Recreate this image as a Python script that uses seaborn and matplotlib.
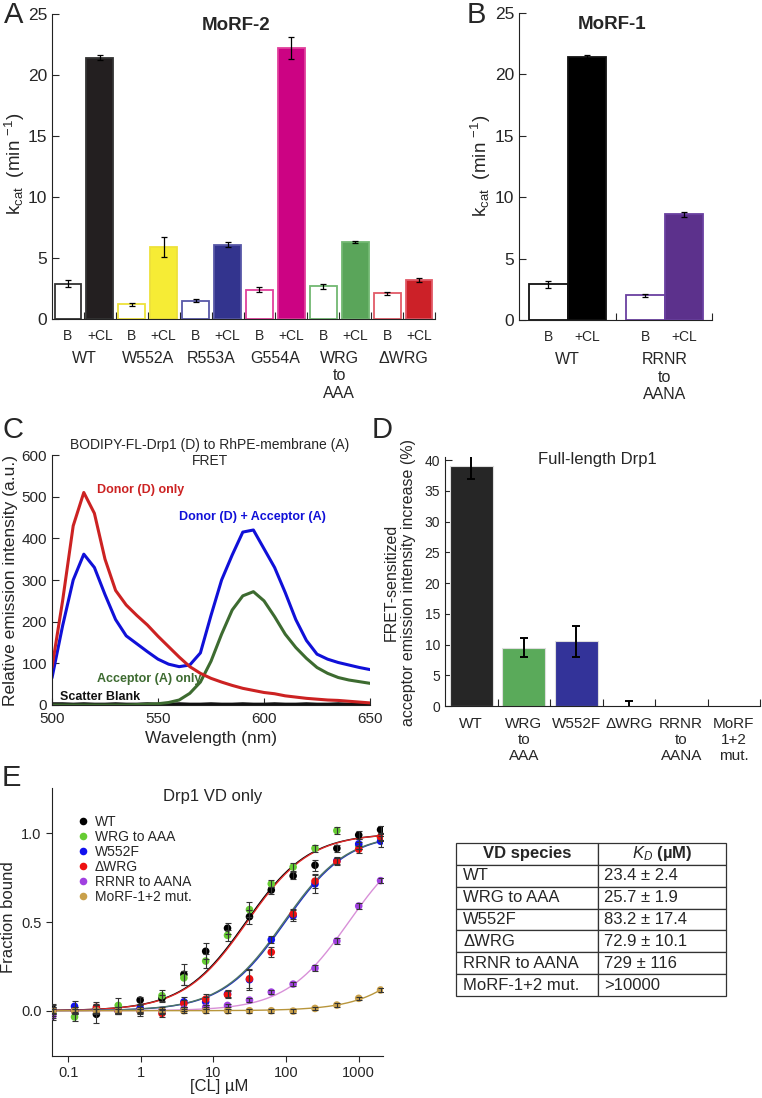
import matplotlib

matplotlib.use('Agg')
import matplotlib.pyplot as plt
import numpy as np
import pandas as pd
import seaborn as sns
from matplotlib.ticker import NullLocator

# ---- panel A: kcat, MoRF-2 mutants (basal B / +CL)
morf2_groups = ['WT', 'W552A', 'R553A', 'G554A', 'WRG\nto\nAAA', '\u0394WRG']
morf2_basal = [2.9, 1.2, 1.5, 2.4, 2.7, 2.1]
morf2_basal_err = [0.3, 0.1, 0.1, 0.2, 0.2, 0.1]
morf2_cl = [21.4, 5.9, 6.1, 22.2, 6.3, 3.2]
morf2_cl_err = [0.2, 0.8, 0.2, 0.9, 0.1, 0.2]
morf2_fill = ['#231f20', '#f6ec35', '#33348e', '#cc0383', '#5aa55a', '#cc2128']
morf2_edge = ['#333333', '#eee23a', '#5858a8', '#e0409c', '#72b872', '#e25a68']

# ---- panel B: kcat, MoRF-1
morf1_groups = ['WT', 'RRNR\nto\nAANA']
morf1_basal = [2.9, 2.0]
morf1_basal_err = [0.3, 0.1]
morf1_cl = [21.4, 8.6]
morf1_cl_err = [0.2, 0.2]
morf1_fill = ['#000000', '#5c318c']
morf1_edge = ['#111111', '#6a40a0']

# ---- panel C: FRET emission spectra (every 5 nm)
wavelength_nm = list(range(500, 651, 5))
donor_only = [90, 250, 430, 510, 460, 350, 275, 240, 215, 192, 165, 140, 115, 92, 76, 64,
              55, 47, 40, 35, 30, 27, 22, 19, 16, 14, 12, 11, 9, 7, 5]
donor_acceptor = [65, 190, 300, 362, 330, 265, 205, 166, 147, 128, 110, 98, 92, 96, 125, 215,
                  300, 360, 415, 420, 375, 330, 270, 205, 155, 122, 110, 102, 96, 90, 85]
acceptor_only = [0, 0, 0, 0, 0, 0, 0, 0, 1, 2, 3, 6, 12, 28, 55, 105,
                 170, 228, 262, 272, 250, 212, 170, 138, 112, 90, 76, 66, 60, 56, 52]
scatter_blank = [3, 3, 2, 3, 2, 2, 3, 2, 2, 3, 2, 2, 3, 2, 2, 3,
                 2, 2, 3, 2, 2, 3, 2, 2, 3, 2, 2, 3, 2, 2, 3]
spectra_names = ['Scatter Blank', 'Acceptor (A) only', 'Donor (D) + Acceptor (A)', 'Donor (D) only']
spectra_colors = ['#111111', '#3d6b30', '#1010d8', '#cc2222']

# ---- panel D: FRET-sensitized acceptor emission increase
fret_labels = ['WT', 'WRG\nto\nAAA', 'W552F', '\u0394WRG', 'RRNR\nto\nAANA', 'MoRF\n1+2\nmut.']
fret_increase = [39.0, 9.5, 10.5, 0.0, 0.0, 0.0]
fret_err = [2.0, 1.5, 2.5, 0.8]
fret_colors = ['#262626', '#5aaa5a', '#333399', '#888888', '#888888', '#888888']

# ---- panel E: VD binding to CL
cl_um = [0.061, 0.122, 0.244, 0.488, 0.977, 1.95, 3.91, 7.81, 15.6, 31.3, 62.5, 125, 250, 500, 1000, 2000]
vd_species = ['WT', 'WRG to AAA', 'W552F', '\u0394WRG', 'RRNR to AANA', 'MoRF-1+2 mut.']
frac_wt = [0.01, 0.00, -0.02, 0.00, 0.06, 0.07, 0.205, 0.335, 0.465, 0.53, 0.68, 0.76, 0.82, 0.915, 0.99, 1.02]
frac_wrg = [-0.01, -0.035, 0.01, 0.03, 0.0, 0.085, 0.185, 0.28, 0.425, 0.57, 0.715, 0.81, 0.915, 1.015, 0.93, 0.975]
frac_w552f = [0.0, 0.025, 0.01, 0.0, 0.015, 0.0, 0.05, 0.05, 0.095, 0.175, 0.40, 0.535, 0.715, 0.845, 0.94, 0.955]
frac_dwrg = [0.0, 0.0, 0.02, 0.0, 0.0, -0.015, 0.04, 0.065, 0.09, 0.18, 0.33, 0.545, 0.73, 0.84, 0.91, 0.98]
frac_rrnr = [-0.03, 0.0, 0.0, 0.0, 0.0, 0.0, 0.01, 0.02, 0.03, 0.06, 0.105, 0.15, 0.24, 0.393, 0.59, 0.733]
frac_morf = [0.0, 0.0, 0.0, 0.0, 0.0, 0.0, 0.0, 0.0, 0.0, 0.0, 0.0, -0.002, 0.013, 0.032, 0.07, 0.117]
err_wt = [0.03, 0.02, 0.05, 0.02, 0.02, 0.02, 0.06, 0.045, 0.03, 0.04, 0.02, 0.02, 0.03, 0.02, 0.02, 0.02]
err_wrg = [0.03, 0.02, 0.03, 0.04, 0.02, 0.03, 0.04, 0.04, 0.03, 0.04, 0.02, 0.02, 0.02, 0.02, 0.02, 0.02]
err_w552f = [0.03, 0.03, 0.02, 0.02, 0.02, 0.02, 0.03, 0.03, 0.02, 0.06, 0.02, 0.03, 0.05, 0.02, 0.03, 0.03]
err_dwrg = [0.02, 0.02, 0.03, 0.02, 0.03, 0.02, 0.02, 0.03, 0.02, 0.05, 0.03, 0.03, 0.04, 0.02, 0.02, 0.02]
err_rrnr = [0.02, 0.01, 0.01, 0.01, 0.01, 0.01, 0.01, 0.01, 0.01, 0.01, 0.01, 0.01, 0.015, 0.015, 0.015, 0.015]
err_morf = [0.01] * 16
point_colors = ['#000000', '#66cc33', '#1111ee', '#ee1111', '#a040e0', '#c9a04a']
curve_colors = ['#000000', '#e02828', '#2030c0', '#4d7565', '#d890d8', '#b8963c']
kd_text = ['23.4 \u00b1 2.4', '25.7 \u00b1 1.9', '83.2 \u00b1 17.4', '72.9 \u00b1 10.1', '729 \u00b1 116', '>10000']
# half-saturation points of the drawn fit curves (uM)
fit_midpoint_um = [28, 29, 97, 93, 729, 15000]

sns.set_style('ticks')
plt.rcParams['font.family'] = ['Liberation Sans', 'DejaVu Sans']
plt.rcParams['mathtext.fontset'] = 'custom'
plt.rcParams['mathtext.rm'] = 'Liberation Sans'
plt.rcParams['mathtext.it'] = 'Liberation Sans:italic'
plt.rcParams['mathtext.bf'] = 'Liberation Sans:bold'
plt.rcParams['axes.linewidth'] = 0.8
plt.rcParams['axes.edgecolor'] = '#222222'

W, H = 762, 1098
fig = plt.figure(figsize=(W / 100, H / 100), dpi=100)


def box(x0, y0, x1, y1):
    return [x0 / W, 1 - y1 / H, (x1 - x0) / W, (y1 - y0) / H]


def ftext(x, y, s, **kw):
    fig.text(x / W, 1 - y / H, s, ha=kw.pop('ha', 'center'), va=kw.pop('va', 'center'), **kw)


def kcat_panel(ax, pos, groups, basal, basal_err, cl, cl_err, fill, edge, width, title):
    vals = [v for pair in zip(basal, cl) for v in pair]
    errs = [v for pair in zip(basal_err, cl_err) for v in pair]
    sns.barplot(x=pos, y=vals, native_scale=True, width=width, color='white',
                errorbar=None, ax=ax)
    for i, patch in enumerate(ax.patches):
        g = i // 2
        patch.set_facecolor('white' if i % 2 == 0 else fill[g])
        patch.set_edgecolor(edge[g])
        patch.set_linewidth(1.3)
    ax.errorbar(pos, vals, yerr=errs, fmt='none', ecolor='black', elinewidth=0.9,
                capsize=2.5, capthick=0.9)
    ax.set_ylim(0, 25)
    ax.set_yticks([0, 5, 10, 15, 20, 25])
    ax.tick_params(axis='y', labelsize=12.5, direction='in', length=5, width=0.8)
    ax.tick_params(axis='x', direction='in', length=5, width=0.8, labelbottom=False)
    sns.despine(ax=ax)
    ax.set_xlabel('')
    ax.set_ylabel('')
    tr = ax.get_xaxis_transform()
    for i, p in enumerate(pos):
        ax.text(p, -0.034, 'B' if i % 2 == 0 else '+CL', transform=tr,
                ha='center', va='top', fontsize=10)
    for g, name in enumerate(groups):
        ax.text((pos[2 * g] + pos[2 * g + 1]) / 2, -0.105, name, transform=tr,
                ha='center', va='top', fontsize=11.5, linespacing=1.2)
    ax.text(0.48, 0.963, title, transform=ax.transAxes, ha='center', va='center',
            fontsize=13.5, fontweight='bold')


# A
ax_a = fig.add_axes(box(52, 14, 435, 319))
pos_a = list(range(12))
kcat_panel(ax_a, pos_a, morf2_groups, morf2_basal, morf2_basal_err, morf2_cl, morf2_cl_err,
           morf2_fill, morf2_edge, 0.84, 'MoRF-2')
ax_a.set_xlim(-0.5, 11.5)
ax_a.set_xticks(np.arange(0.5, 12, 1))

# B
ax_b = fig.add_axes(box(519, 13, 712, 320))
pos_b = [0, 1, 2.5, 3.5]
kcat_panel(ax_b, pos_b, morf1_groups, morf1_basal, morf1_basal_err, morf1_cl, morf1_cl_err,
           morf1_fill, morf1_edge, 1.0, 'MoRF-1')
ax_b.set_xlim(-0.75, 4.22)
ax_b.set_xticks([1.75, 4.22])

kcat_label = r'k$_{\mathrm{cat}}$  (min $^{-1}$)'
ftext(15, 164, kcat_label, rotation=90, fontsize=13.5)
ftext(481, 166, kcat_label, rotation=90, fontsize=13.5)

# C
ax_c = fig.add_axes(box(52, 455, 370, 705))
spectra = pd.DataFrame({
    'wl': wavelength_nm * 4,
    'intensity': scatter_blank + acceptor_only + donor_acceptor + donor_only,
    'trace': np.repeat(spectra_names, len(wavelength_nm)),
})
sns.lineplot(data=spectra, x='wl', y='intensity', hue='trace', hue_order=spectra_names,
             palette=spectra_colors, linewidth=2.2, errorbar=None, legend=False, ax=ax_c)
ax_c.set_xlim(500, 650)
ax_c.set_ylim(0, 600)
ax_c.set_xticks([500, 550, 600, 650])
ax_c.set_yticks(range(0, 601, 100))
ax_c.tick_params(labelsize=11, direction='in', length=5, width=0.8)
ax_c.tick_params(axis='x', pad=5)
sns.despine(ax=ax_c)
ax_c.set_xlabel('')
ax_c.set_ylabel('')
ax_c.text(0.497, 1.008, 'BODIPY-FL-Drp1 (D) to RhPE-membrane (A)\nFRET', transform=ax_c.transAxes,
          ha='center', va='center', fontsize=10, linespacing=1.1)
for txt, x, y, col in [('Donor (D) only', 521, 516, spectra_colors[3]),
                       ('Donor (D) + Acceptor (A)', 560, 451, spectra_colors[2]),
                       ('Acceptor (A) only', 521, 62, spectra_colors[1]),
                       ('Scatter Blank', 504, 18, spectra_colors[0])]:
    ax_c.text(x, y, txt, color=col, fontsize=9, fontweight='bold', ha='left', va='center')
ftext(11, 580, 'Relative emission intensity (a.u.)', rotation=90, fontsize=12.5)
ftext(211, 738, 'Wavelength (nm)', fontsize=12.5)

# D
ax_d = fig.add_axes(box(445, 457, 760, 706))
pos_d = list(range(len(fret_labels)))
sns.barplot(x=pos_d, y=fret_increase, native_scale=True, width=0.82, color='white',
            errorbar=None, ax=ax_d)
for patch, col, v in zip(ax_d.patches, fret_colors, fret_increase):
    patch.set_facecolor(col)
    patch.set_edgecolor('#dddddd')
    patch.set_linewidth(0.8)
    patch.set_visible(v > 0)
ax_d.errorbar(pos_d[:4], fret_increase[:4], yerr=fret_err, fmt='none', ecolor='black',
              elinewidth=1.4, capsize=3, capthick=1.4)
ax_d.set_xlim(-0.5, 5.5)
ax_d.set_ylim(0, 40.5)
ax_d.set_xticks(np.arange(0.5, 6, 1))
ax_d.set_yticks(range(0, 41, 5))
ax_d.tick_params(axis='y', labelsize=10, direction='in', length=5, width=0.8)
ax_d.tick_params(axis='x', direction='in', length=5, width=0.8, labelbottom=False)
sns.despine(ax=ax_d)
ax_d.set_xlabel('')
ax_d.set_ylabel('')
for p, lab in zip(pos_d, fret_labels):
    ax_d.text(p, -0.045, lab, transform=ax_d.get_xaxis_transform(), ha='center', va='top',
              fontsize=11, linespacing=1.15)
ax_d.text(0.483, 0.99, 'Full-length Drp1', transform=ax_d.transAxes, ha='center', va='center',
          fontsize=12)
ftext(400, 582, 'FRET-sensitized\nacceptor emission intensity increase (%)', rotation=90,
      fontsize=11.5, linespacing=1.15)

# E
ax_e = fig.add_axes(box(52, 788, 383, 1056))
fracs = [frac_wt, frac_wrg, frac_w552f, frac_dwrg, frac_rrnr, frac_morf]
errs = [err_wt, err_wrg, err_w552f, err_dwrg, err_rrnr, err_morf]
binding = pd.DataFrame({
    'conc': cl_um * len(vd_species),
    'frac': sum(fracs, []),
    'err': sum(errs, []),
    'species': np.repeat(vd_species, len(cl_um)),
})
conc_fit = np.logspace(np.log10(0.06), np.log10(2000), 200)
fits = pd.DataFrame({
    'conc': np.tile(conc_fit, len(vd_species)),
    'frac': np.concatenate([conc_fit / (k + conc_fit) for k in fit_midpoint_um]),
    'species': np.repeat(vd_species, len(conc_fit)),
})
sns.lineplot(data=fits, x='conc', y='frac', hue='species', hue_order=vd_species,
             palette=curve_colors, linewidth=1.0, errorbar=None, legend=False, ax=ax_e, zorder=2)
sns.scatterplot(data=binding, x='conc', y='frac', hue='species', hue_order=vd_species,
                palette=point_colors, s=30, linewidth=0, ax=ax_e, zorder=3)
for sp in vd_species:
    sub = binding[binding['species'] == sp]
    ax_e.errorbar(sub['conc'], sub['frac'], yerr=sub['err'], fmt='none', ecolor='#333333',
                  elinewidth=0.8, capsize=2, capthick=0.8, zorder=4)
ax_e.set_xscale('log')
ax_e.set_xlim(0.0597, 2160)
ax_e.set_ylim(-0.255, 1.255)
ax_e.set_xticks([0.1, 1, 10, 100, 1000], ['0.1', '1', '10', '100', '1000'])
ax_e.xaxis.set_minor_locator(NullLocator())
ax_e.set_yticks([0, 0.5, 1.0], ['0.0', '0.5', '1.0'])
ax_e.tick_params(labelsize=10.5, direction='out', length=4, width=0.8)
sns.despine(ax=ax_e)
ax_e.set_xlabel('')
ax_e.set_ylabel('')
leg = ax_e.get_legend()
handles = leg.legend_handles
labels = [t.get_text() for t in leg.get_texts()]
ax_e.legend(handles, labels, loc='upper left', bbox_to_anchor=(0.077, 0.9), frameon=False,
            fontsize=10, borderaxespad=0, borderpad=0, handlelength=0.8, handletextpad=0.45,
            labelspacing=0.08)
ax_e.text(0.486, 0.97, 'Drp1 VD only', transform=ax_e.transAxes, ha='center', va='center',
          fontsize=12)
ftext(9, 917, 'Fraction bound', rotation=90, fontsize=12)
ftext(219, 1086, '[CL] \u00b5M', fontsize=12)

# table of KD values
ax_t = fig.add_axes(box(456, 843, 726, 996))
ax_t.axis('off')
tbl = ax_t.table(cellText=[[s, k] for s, k in zip(vd_species, kd_text)],
                 colLabels=['VD species', '$K_D$ (\u00b5M)'], colWidths=[0.526, 0.474],
                 cellLoc='left', bbox=[0, 0, 1, 1])
tbl.auto_set_font_size(False)
tbl.set_fontsize(12)
for (r, c), cell in tbl.get_celld().items():
    cell.set_linewidth(0.9)
    cell.set_edgecolor('#333333')
    cell.PAD = 0.05
    if r == 0:
        cell.get_text().set_fontweight('bold')

# panel letters
for letter, x, y in [('A', 14, 15), ('B', 476, 15), ('C', 13, 430), ('D', 382, 430), ('E', 11, 778)]:
    ftext(x, y, letter, fontsize=21)

fig.savefig('out.png', dpi=100)
plt.close(fig)
